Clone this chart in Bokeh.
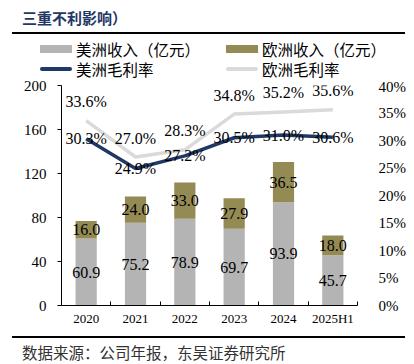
from bokeh.plotting import figure
from bokeh.layouts import column
from bokeh.models import (Range1d, LinearAxis, FixedTicker, ColumnDataSource, LabelSet,
                          PrintfTickFormatter, Div)
from bokeh.embed import file_html
from bokeh.resources import INLINE

years = ["2020", "2021", "2022", "2023", "2024", "2025H1"]
americas_rev = [60.9, 75.2, 78.9, 69.7, 93.9, 45.7]
europe_rev = [16.0, 24.0, 33.0, 27.9, 36.5, 18.0]
americas_gm = [30.3, 24.9, 27.2, 30.5, 31.0, 30.6]
europe_gm = [33.6, 27.0, 28.3, 34.8, 35.2, 35.6]
left_ticks = [0, 40, 80, 120, 160, 200]
right_ticks = [0, 5, 10, 15, 20, 25, 30, 35, 40]
series_names = ["美洲收入（亿元）", "欧洲收入（亿元）", "美洲毛利率", "欧洲毛利率"]
title_text = "三重不利影响）"
source_text = "数据来源：公司年报，东吴证券研究所"

GRAY = "#B4B4B4"
OLIVE = "#948A54"
NAVY = "#1F3864"
LGRAY = "#DADADA"
SERIF = "Liberation Serif"
CJK = "Noto Sans CJK SC"
W = 408

n = len(years)
xs = [i + 0.5 for i in range(n)]
src = ColumnDataSource(dict(
    x=xs,
    am=americas_rev,
    eu=europe_rev,
    tot=[a + e for a, e in zip(americas_rev, europe_rev)],
    am_mid=[a / 2 for a in americas_rev],
    eu_mid=[a + e / 2 for a, e in zip(americas_rev, europe_rev)],
    am_txt=[f"{v:.1f}" for v in americas_rev],
    eu_txt=[f"{v:.1f}" for v in europe_rev],
    amg=americas_gm,
    eug=europe_gm,
    amg_txt=[f"{v:.1f}%" for v in americas_gm],
    eug_txt=[f"{v:.1f}%" for v in europe_gm],
))


def text_html(txt, left, top, size, color, bold=False):
    weight = "bold" if bold else "normal"
    return (f'<div style="position:absolute;left:{left}px;top:{top}px;white-space:nowrap;'
            f'font-family:\'{CJK}\';font-weight:{weight};font-size:{size}px;line-height:20px;'
            f'color:{color};">{txt}</div>')


def box_html(left, top, width, height, color, radius=0):
    return (f'<div style="position:absolute;left:{left}px;top:{top}px;width:{width}px;'
            f'height:{height}px;background:{color};border-radius:{radius}px;"></div>')


# ---------------- header: title, rule, legend ----------------
HH = 78
swatches = [
    box_html(40, 45, 32, 8, GRAY), box_html(226, 45, 32, 8, OLIVE),
    box_html(40, 66.5, 32, 4, NAVY, 2), box_html(226, 66.5, 32, 4, LGRAY, 2),
]
legend_texts = [
    text_html(series_names[0], 76, 38.5, 15.5, "#000"),
    text_html(series_names[1], 262, 38.5, 15.5, "#000"),
    text_html(series_names[2], 76, 58.5, 15.5, "#000"),
    text_html(series_names[3], 262, 58.5, 15.5, "#000"),
]
header = Div(width=W, height=HH, margin=0, text=(
    f'<div style="position:relative;width:{W}px;height:{HH}px;">'
    + text_html(title_text, 22, 8, 15, NAVY, bold=True)
    + box_html(12, 32, 393, 2, "#000")
    + "".join(swatches) + "".join(legend_texts)
    + '</div>'))

# ---------------- main chart ----------------
TOP = 85 - HH
BOTTOM = 24
p = figure(width=W, height=TOP + 220 + BOTTOM,
           x_range=Range1d(0, n), y_range=Range1d(0, 200),
           output_backend="svg", toolbar_location=None,
           min_border_left=61, min_border_right=W - 61 - 297,
           min_border_top=TOP, min_border_bottom=BOTTOM,
           background_fill_color="white", border_fill_color="white", outline_line_color=None)
p.grid.visible = False
p.extra_y_ranges = {"pct": Range1d(0, 40)}

xa = p.xaxis[0]
xa.ticker = FixedTicker(ticks=xs, minor_ticks=list(range(n + 1)))
xa.major_label_overrides = {x: y for x, y in zip(xs, years)}
xa.major_tick_in = 0
xa.major_tick_out = 0
xa.minor_tick_in = 4
xa.minor_tick_out = 0
xa.minor_tick_line_color = "black"
xa.axis_line_color = "black"
xa.major_label_text_font = SERIF
xa.major_label_text_font_size = "13px"
xa.major_label_text_color = "black"
xa.major_label_standoff = 5

ya = p.yaxis[0]
ya.ticker = FixedTicker(ticks=left_ticks)
ya.major_tick_in = 0
ya.major_tick_out = 4
ya.minor_tick_line_color = None
ya.axis_line_color = "black"
ya.major_tick_line_color = "black"
ya.major_label_text_font = SERIF
ya.major_label_text_font_size = "15px"
ya.major_label_text_color = "black"
ya.major_label_standoff = 11

ra = LinearAxis(y_range_name="pct", ticker=FixedTicker(ticks=right_ticks),
                formatter=PrintfTickFormatter(format="%d%%"))
ra.axis_line_color = None
ra.major_tick_line_color = None
ra.minor_tick_line_color = None
ra.major_label_text_font = SERIF
ra.major_label_text_font_size = "15px"
ra.major_label_text_color = "black"
ra.major_label_standoff = 15
p.add_layout(ra, "right")

p.vbar(x="x", width=0.43, bottom=0, top="am", source=src, fill_color=GRAY, line_color=None)
p.vbar(x="x", width=0.43, bottom="am", top="tot", source=src, fill_color=OLIVE, line_color=None)
p.line(x="x", y="eug", source=src, y_range_name="pct", line_color=LGRAY, line_width=3.5)
p.line(x="x", y="amg", source=src, y_range_name="pct", line_color=NAVY, line_width=3.5)

lab_kw = dict(source=src, text_font=SERIF, text_font_size="16px", text_color="black",
              text_align="center", text_baseline="middle")
p.add_layout(LabelSet(x="x", y="am_mid", text="am_txt", **lab_kw))
p.add_layout(LabelSet(x="x", y="eu_mid", text="eu_txt", **lab_kw))
p.add_layout(LabelSet(x="x", y="amg", text="amg_txt", y_range_name="pct", **lab_kw))
p.add_layout(LabelSet(x="x", y="eug", text="eug_txt", y_range_name="pct", y_offset=19, **lab_kw))

# ---------------- footer: rule + source ----------------
FH = 35
footer = Div(width=W, height=FH, margin=0, text=(
    f'<div style="position:relative;width:{W}px;height:{FH}px;">'
    + box_html(12, 7, 393, 2, "#000")
    + text_html(source_text, 22, 13, 15.5, "#333333")
    + '</div>'))

layout = column(header, p, footer, spacing=0)
open("out.html", "w").write(file_html(layout, INLINE))
